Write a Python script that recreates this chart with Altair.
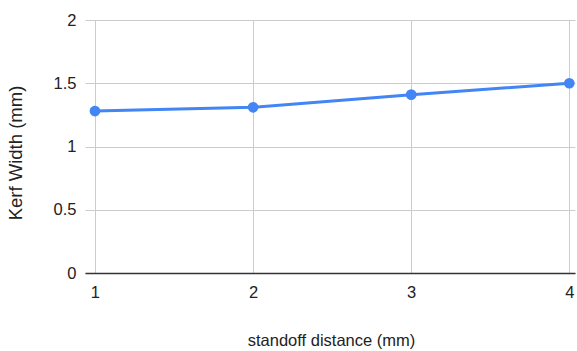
import altair as alt
import pandas as pd

standoff = [1, 2, 3, 4]
kerf_width = [1.28, 1.31, 1.41, 1.50]

df = pd.DataFrame({"standoff": standoff, "kerf": kerf_width})

FONT = "Liberation Sans"
FS = 16.5

x = alt.X(
    "standoff:Q",
    scale=alt.Scale(domain=[0.937, 4.036], nice=False, zero=False),
    axis=alt.Axis(
        values=[1, 2, 3, 4],
        format="d",
        title="standoff distance (mm)",
        grid=True,
        gridColor="#cccccc",
        ticks=False,
        domain=True,
        domainColor="#333333",
        domainWidth=1.5,
        labelPadding=11,
        labelFontSize=FS,
        labelColor="#222222",
        labelFont=FONT,
        titleFont=FONT,
        titleFontSize=FS,
        titleFontWeight="normal",
        titleColor="#222222",
        titleX=246,
        titleY=67,
        titleAlign="center",
        titleBaseline="middle",
    ),
)

y = alt.Y(
    "kerf:Q",
    scale=alt.Scale(domain=[0, 2], nice=False),
    axis=alt.Axis(
        values=[0, 0.5, 1, 1.5, 2],
        format="~g",
        title="Kerf Width (mm)",
        grid=True,
        gridColor="#cccccc",
        ticks=False,
        domain=False,
        labelPadding=9,
        labelFontSize=FS,
        labelColor="#222222",
        labelFont=FONT,
        titleFont=FONT,
        titleFontSize=18.5,
        titleFontWeight="normal",
        titleColor="#222222",
        titleX=-70,
        titleY=132.5,
        titleAngle=-90,
        titleAlign="center",
        titleBaseline="middle",
    ),
)

base = alt.Chart(df).encode(x=x, y=y)

line = base.mark_line(color="#4285F4", strokeWidth=3)
points = base.mark_circle(color="#4285F4", size=115, opacity=1)

chart = (
    alt.layer(line, points)
    .properties(
        width=490,
        height=253,
        autosize=alt.AutoSizeParams(type="none"),
        padding={"left": 85, "top": 20, "right": 2, "bottom": 78},
        background="white",
    )
    .configure_view(stroke=None)
)

chart.save("out.html", embed_options={"renderer": "svg", "actions": False})
